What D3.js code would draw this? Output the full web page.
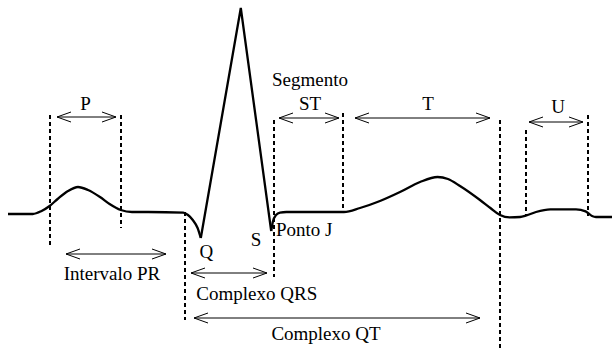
<!DOCTYPE html>
<html>
<head>
<meta charset="utf-8">
<script src="https://cdn.jsdelivr.net/npm/d3@7"></script>
<style>
  body { margin: 0; background: #fff; }
</style>
</head>
<body>
<div class="container"></div>
<script>
var width = 612;
var height = 348;

// waveform, time in ms, amplitude in mV (baseline = 0)
// P wave + PR segment + Q dip
var pqT = [0, 31, 42, 52, 62, 75, 87.5, 100, 115, 127, 141, 155, 175, 219, 225, 231, 237, 241];
var pqV = [-0.005, -0.005, 0.01, 0.035, 0.07, 0.11, 0.13, 0.115, 0.08, 0.045, 0.015, 0.005, 0.005, 0.002, -0.01, -0.035, -0.075, -0.125];
// QRS spikes
var qrsT = [241, 291, 329];
var qrsV = [-0.125, 1.025, -0.09];
// ST segment, T wave, U wave
var stT = [329, 331, 335, 340, 348, 420, 440, 465, 490, 515, 537, 550, 565, 590, 603, 615, 627, 640, 648, 660, 678, 710, 722, 730, 735, 755];
var stV = [-0.09, -0.045, -0.01, 0.002, 0.005, 0.005, 0.025, 0.06, 0.105, 0.155, 0.18, 0.17, 0.135, 0.065, 0.025, -0.01, -0.022, -0.02, -0.012, 0.005, 0.018, 0.018, 0.008, -0.015, -0.02, -0.02];

// dashed markers: time, top, bottom (mV)
var markT   = [52.5, 141.25, 221.25, 332.5, 418.75, 615, 647.5, 725];
var markTop = [0.49, 0.49, 0.005, 0.465, 0.5, 0.465, 0.415, 0.49];
var markBot = [-0.17, -0.075, -0.535, -0.32, 0.005, -0.7, -0.015, -0.015];

// interval arrows
var spanName  = ["P", "ST", "T", "U", "Intervalo PR", "Complexo QRS", "Complexo QT"];
var spanStart = [61.25, 338.75, 433.75, 651.25, 72.5, 228.75, 232.5];
var spanEnd   = [135, 413.75, 602.5, 718.75, 197.5, 323.75, 590];
var spanLevel = [0.48, 0.475, 0.475, 0.455, -0.205, -0.3, -0.525];
// label anchors (ms, mV of baseline)
var spanLabelT = [97, 377.5, 525, 687.5, 130, 311, 397.5];
var spanLabelV = [0.515, 0.515, 0.515, 0.5, -0.335, -0.435, -0.635];

// point labels
var pointName = ["Segmento", "Q", "S", "Ponto J"];
var pointT    = [377.5, 248, 310, 335];
var pointV    = [0.635, -0.225, -0.165, -0.115];
var pointAnchor = ["middle", "middle", "middle", "start"];

var svg = d3.select(".container")
  .append("svg")
  .attr("width", width)
  .attr("height", height);

var xScale = d3.scaleLinear().domain([0, 755]).range([8, 612]);
var yScale = d3.scaleLinear().domain([-0.7, 1.05]).range([353, 3]);

//-----------------------------------------
// 1. DASHED MARKERS
svg.selectAll(".mark")
  .data(markT)
  .enter()
  .append("line")
  .attr("class", "mark")
  .attr("x1", (d) => xScale(d))
  .attr("x2", (d) => xScale(d))
  .attr("y1", (d, i) => yScale(markTop[i]))
  .attr("y2", (d, i) => yScale(markBot[i]))
  .attr("stroke", "#000")
  .attr("stroke-width", 2)
  .attr("stroke-dasharray", "4,3");

//-----------------------------------------
// 2. WAVEFORM
var smooth = d3.line()
  .x((d) => xScale(d[0]))
  .y((d) => yScale(d[1]))
  .curve(d3.curveMonotoneX);
var straight = d3.line()
  .x((d) => xScale(d[0]))
  .y((d) => yScale(d[1]));

var segs = [
  [d3.zip(pqT, pqV), smooth],
  [d3.zip(qrsT, qrsV), straight],
  [d3.zip(stT, stV), smooth]
];
segs.forEach(function(s) {
  svg.append("path")
    .attr("d", s[1](s[0]))
    .attr("fill", "none")
    .attr("stroke", "#000")
    .attr("stroke-width", 2.3)
    .attr("stroke-linejoin", "miter")
    .attr("stroke-linecap", "butt");
});

//-----------------------------------------
// 3. ARROWS
var headLen = 14, headHalf = 5;
var arrow = svg.selectAll(".span")
  .data(spanName)
  .enter()
  .append("g")
  .attr("class", "span");

arrow.append("path")
  .attr("d", function(d, i) {
    var x0 = xScale(spanStart[i]), x1 = xScale(spanEnd[i]), y = yScale(spanLevel[i]);
    return "M" + x0 + "," + y + "H" + x1 +
      "M" + (x0 + headLen) + "," + (y - headHalf) + "L" + x0 + "," + y + "L" + (x0 + headLen) + "," + (y + headHalf) +
      "M" + (x1 - headLen) + "," + (y - headHalf) + "L" + x1 + "," + y + "L" + (x1 - headLen) + "," + (y + headHalf);
  })
  .attr("fill", "none")
  .attr("stroke", "#000")
  .attr("stroke-width", 1);

arrow.append("text")
  .text((d) => d)
  .attr("x", (d, i) => xScale(spanLabelT[i]))
  .attr("y", (d, i) => yScale(spanLabelV[i]))
  .attr("text-anchor", "middle")
  .style("font-family", "'Liberation Serif'")
  .style("font-size", "19px");

//-----------------------------------------
// 4. POINT LABELS
svg.selectAll(".plabel")
  .data(pointName)
  .enter()
  .append("text")
  .attr("class", "plabel")
  .text((d) => d)
  .attr("x", (d, i) => xScale(pointT[i]))
  .attr("y", (d, i) => yScale(pointV[i]))
  .attr("text-anchor", (d, i) => pointAnchor[i])
  .style("font-family", "'Liberation Serif'")
  .style("font-size", "19px");
</script>
</body>
</html>
